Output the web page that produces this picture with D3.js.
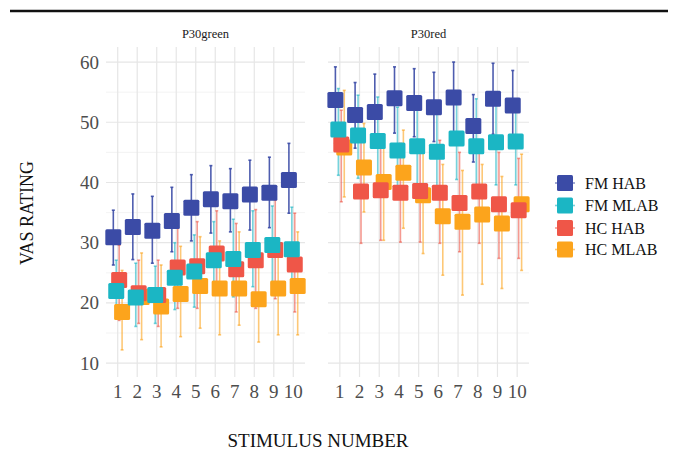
<!DOCTYPE html>
<html>
<head>
<meta charset="utf-8">
<script src="https://cdn.jsdelivr.net/npm/d3@7"></script>
<style>
  body { margin: 0; background: #fff; }
  svg text { font-family: "Liberation Serif", "Times New Roman", serif; }
</style>
</head>
<body>
<script>
var W = 673, H = 452;

// data
var stimuli = [1, 2, 3, 4, 5, 6, 7, 8, 9, 10];
var panels = ["P30green", "P30red"];
var groups = ["FM HAB", "FM MLAB", "HC HAB", "HC MLAB"];
var colors = ["#3b4ba6", "#1bb6c4", "#ef5648", "#fca41c"];
var yTicks = [10, 20, 30, 40, 50, 60];

var greenFmHab   = [30.9, 32.6, 32.0, 33.6, 35.8, 37.2, 36.9, 38.0, 38.3, 40.4];
var greenFmHabLo = [26.3, 27.2, 26.6, 28.5, 30.3, 31.6, 31.8, 32.1, 32.5, 34.9];
var greenFmHabHi = [35.4, 38.1, 37.7, 39.2, 41.3, 42.8, 42.3, 43.7, 44.2, 46.5];

var greenFmMlab   = [22.0, 20.9, 21.3, 24.2, 25.2, 27.1, 27.3, 28.8, 29.6, 28.9];
var greenFmMlabLo = [17.5, 16.1, 16.6, 18.9, 19.3, 21.3, 21.0, 22.7, 23.2, 22.0];
var greenFmMlabHi = [27.1, 26.6, 26.1, 30.0, 31.3, 33.5, 33.9, 35.3, 36.1, 35.9];

var greenHcHab   = [23.8, 21.6, 21.3, 25.9, 26.1, 28.2, 25.6, 27.1, 28.8, 26.4];
var greenHcHabLo = [17.1, 16.6, 16.1, 19.1, 19.1, 21.3, 18.5, 19.1, 20.7, 18.5];
var greenHcHabHi = [29.6, 27.1, 27.1, 32.4, 33.5, 35.3, 33.2, 35.5, 37.1, 34.9];

var greenHcMlab   = [18.5, 21.0, 19.4, 21.5, 22.8, 22.4, 22.4, 20.6, 22.4, 22.8];
var greenHcMlabLo = [12.2, 13.9, 12.7, 14.4, 15.8, 14.7, 16.3, 13.5, 14.7, 14.7];
var greenHcMlabHi = [25.4, 28.3, 26.3, 29.4, 31.0, 30.3, 31.8, 28.8, 30.8, 31.8];

var redFmHab   = [53.7, 51.2, 51.7, 54.0, 53.2, 52.5, 54.1, 49.4, 53.9, 52.8];
var redFmHabLo = [46.5, 45.7, 46.4, 48.2, 47.6, 46.8, 47.9, 43.4, 48.0, 46.8];
var redFmHabHi = [59.2, 56.6, 58.0, 59.2, 58.9, 58.3, 60.0, 54.6, 59.8, 58.6];

var redFmMlab   = [48.8, 47.8, 46.9, 45.3, 46.0, 45.1, 47.3, 46.0, 46.7, 46.8];
var redFmMlabLo = [41.2, 40.7, 40.0, 38.6, 39.0, 38.3, 40.5, 39.3, 39.6, 39.6];
var redFmMlabHi = [55.6, 54.5, 54.2, 52.5, 53.1, 52.0, 54.1, 53.9, 53.7, 53.7];

var redHcHab   = [46.3, 38.5, 38.7, 38.3, 38.6, 38.3, 36.6, 38.5, 36.4, 35.4];
var redHcHabLo = [36.8, 29.9, 30.4, 30.1, 30.1, 29.9, 28.5, 29.9, 27.4, 27.4];
var redHcHabHi = [52.0, 48.7, 48.0, 46.5, 47.0, 47.0, 45.0, 47.0, 45.0, 44.0];

var redHcMlab   = [45.8, 42.5, 40.1, 41.6, 37.9, 34.4, 33.5, 34.7, 33.2, 36.4];
var redHcMlabLo = [37.6, 35.1, 30.4, 32.4, 28.2, 24.6, 21.3, 23.1, 22.4, 25.4];
var redHcMlabHi = [55.3, 49.8, 47.0, 48.7, 45.8, 43.0, 42.0, 43.0, 41.0, 44.7];

var series = [
  [ [greenFmHab, greenFmHabLo, greenFmHabHi], [greenFmMlab, greenFmMlabLo, greenFmMlabHi],
    [greenHcHab, greenHcHabLo, greenHcHabHi], [greenHcMlab, greenHcMlabLo, greenHcMlabHi] ],
  [ [redFmHab, redFmHabLo, redFmHabHi], [redFmMlab, redFmMlabLo, redFmMlabHi],
    [redHcHab, redHcHabLo, redHcHabHi], [redHcMlab, redHcMlabLo, redHcMlabHi] ]
];

// layout
var panelX = [[106, 305], [328, 529]],
    plotTop = 47, plotBottom = 377,
    dodge = [-0.225, -0.075, 0.075, 0.225],
    sq = 16;

var y = d3.scaleLinear().domain([7.7, 62.5]).range([plotBottom, plotTop]);

var svg = d3.select("body").append("svg")
  .attr("width", W)
  .attr("height", H);

// rule on top
svg.append("line")
  .attr("x1", 10).attr("x2", 668)
  .attr("y1", 11).attr("y2", 11)
  .attr("stroke", "#111").attr("stroke-width", 2.5);

var minor = d3.range(15, 62, 10);

panels.forEach(function(name, p) {
  var x = d3.scaleLinear().domain([0.4, 10.6]).range(panelX[p]);
  var g = svg.append("g");

  // grid
  g.selectAll(".minor").data(minor).enter().append("line")
    .attr("x1", panelX[p][0]).attr("x2", panelX[p][1])
    .attr("y1", y).attr("y2", y)
    .attr("stroke", "#f0f0f0").attr("stroke-width", 0.8);
  g.selectAll(".major").data(yTicks).enter().append("line")
    .attr("x1", panelX[p][0]).attr("x2", panelX[p][1])
    .attr("y1", y).attr("y2", y)
    .attr("stroke", "#e6e6e6").attr("stroke-width", 1.2);
  g.selectAll(".vgrid").data(stimuli).enter().append("line")
    .attr("x1", x).attr("x2", x)
    .attr("y1", plotTop).attr("y2", plotBottom)
    .attr("stroke", "#e6e6e6").attr("stroke-width", 1.2);

  // strip label
  g.append("text")
    .attr("x", (panelX[p][0] + panelX[p][1]) / 2)
    .attr("y", 38)
    .attr("text-anchor", "middle")
    .attr("font-size", 12.5)
    .attr("fill", "#1a1a1a")
    .text(name);

  // x tick labels
  g.selectAll(".xt").data(stimuli).enter().append("text")
    .attr("x", x)
    .attr("y", 398)
    .attr("text-anchor", "middle")
    .attr("font-size", 19)
    .attr("fill", "#4d4d4d")
    .text(function(d) { return d; });

  var rows = [];
  series[p].forEach(function(s, k) {
    stimuli.forEach(function(st, i) {
      rows.push({ k: k, x: x(st + dodge[k]), m: s[0][i], lo: s[1][i], hi: s[2][i] });
    });
  });
  // draw later groups first so FM HAB ends on top
  rows.sort(function(a, b) { return b.k - a.k; });

  var eb = g.selectAll(".eb").data(rows).enter().append("g")
    .attr("stroke", function(d) { return colors[d.k]; })
    .attr("stroke-opacity", function(d) { return d.k === 0 ? 0.9 : 0.6; })
    .attr("stroke-width", 1.6);
  eb.append("line")
    .attr("x1", function(d) { return d.x; }).attr("x2", function(d) { return d.x; })
    .attr("y1", function(d) { return y(d.lo); }).attr("y2", function(d) { return y(d.hi); });
  eb.append("line")
    .attr("x1", function(d) { return d.x - 1.5; }).attr("x2", function(d) { return d.x + 1.5; })
    .attr("y1", function(d) { return y(d.hi); }).attr("y2", function(d) { return y(d.hi); });
  eb.append("line")
    .attr("x1", function(d) { return d.x - 1.5; }).attr("x2", function(d) { return d.x + 1.5; })
    .attr("y1", function(d) { return y(d.lo); }).attr("y2", function(d) { return y(d.lo); });

  g.selectAll(".pt").data(rows).enter().append("rect")
    .attr("x", function(d) { return d.x - sq / 2; })
    .attr("y", function(d) { return y(d.m) - sq / 2; })
    .attr("width", sq).attr("height", sq)
    .attr("rx", 1.5)
    .attr("fill", function(d) { return colors[d.k]; });
});

// y tick labels
svg.selectAll(".yt").data(yTicks).enter().append("text")
  .attr("x", 99)
  .attr("y", function(d) { return y(d) + 6.5; })
  .attr("text-anchor", "end")
  .attr("font-size", 19)
  .attr("fill", "#4d4d4d")
  .text(function(d) { return d; });

// axis titles
svg.append("text")
  .attr("transform", "translate(33,213)rotate(-90)")
  .attr("text-anchor", "middle")
  .attr("font-size", 18)
  .attr("fill", "#111")
  .text("VAS RATING");

svg.append("text")
  .attr("x", 318).attr("y", 447)
  .attr("text-anchor", "middle")
  .attr("font-size", 19)
  .attr("fill", "#111")
  .text("STIMULUS NUMBER");

// legend
var legY = [183, 205.5, 228, 249.5];
var leg = svg.selectAll(".leg").data(groups).enter().append("g")
  .attr("transform", function(d, i) { return "translate(565," + legY[i] + ")"; });
leg.append("line")
  .attr("x1", -10).attr("x2", 10)
  .attr("stroke", function(d, i) { return colors[i]; })
  .attr("stroke-opacity", 0.6)
  .attr("stroke-width", 1.6);
leg.append("rect")
  .attr("x", -8).attr("y", -8)
  .attr("width", 16).attr("height", 16)
  .attr("rx", 1.5)
  .attr("fill", function(d, i) { return colors[i]; });
leg.append("text")
  .attr("x", 20).attr("y", 5.5)
  .attr("font-size", 16)
  .attr("fill", "#111")
  .text(function(d) { return d; });
</script>
</body>
</html>
